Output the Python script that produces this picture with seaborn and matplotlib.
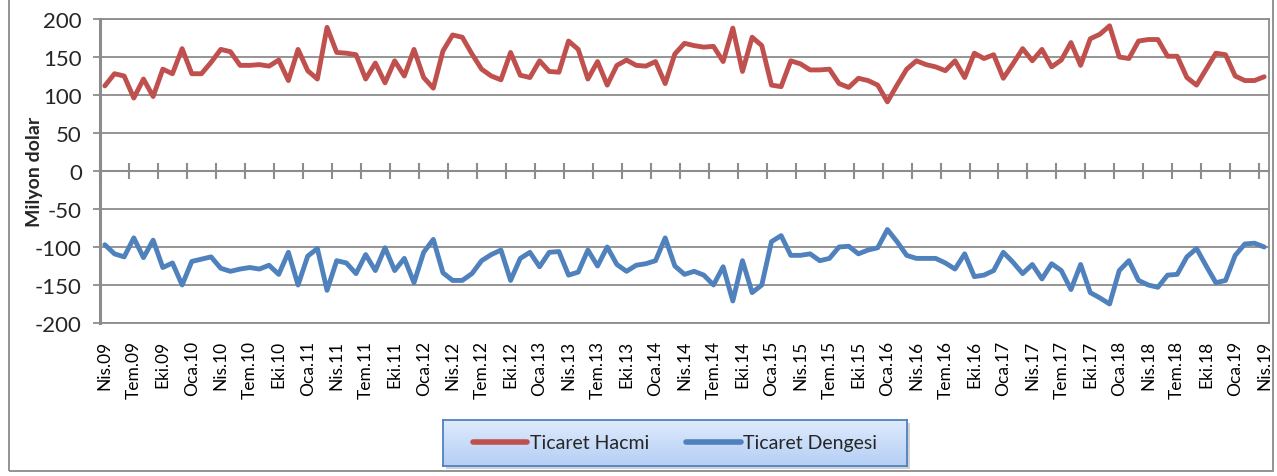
import matplotlib
matplotlib.use("Agg")
import matplotlib.pyplot as plt
from matplotlib.patches import Rectangle
import numpy as np
import pandas as pd
import seaborn as sns

# Aylık veriler: Nis.09 - Nis.19 (121 ay), milyon dolar
ticaret_hacmi = [
    112, 128, 125, 96, 121, 98, 134, 128, 161, 128,
    128, 143, 160, 157, 139, 139, 140, 138, 146, 119,
    160, 132, 121, 189, 156, 155, 153, 121, 142, 116,
    145, 125, 160, 123, 109, 158, 179, 176, 154, 134,
    125, 120, 156, 126, 123, 145, 131, 130, 171, 160,
    121, 144, 113, 139, 146, 139, 138, 144, 115, 154,
    168, 165, 163, 164, 144, 188, 131, 176, 165, 113,
    111, 145, 141, 133, 133, 134, 115, 110, 122, 119,
    113, 91, 113, 134, 145, 140, 137, 132, 145, 123,
    155, 148, 153, 122, 141, 161, 145, 160, 137, 146,
    169, 139, 174, 180, 191, 150, 148, 171, 173, 173,
    151, 151, 123, 113, 134, 155, 153, 125, 119, 119,
    124,
]
ticaret_dengesi = [
    -97, -109, -113, -88, -114, -91, -127, -121, -150, -119,
    -116, -113, -128, -132, -129, -127, -129, -124, -136, -107,
    -150, -112, -102, -157, -118, -121, -135, -110, -131, -101,
    -131, -115, -147, -107, -90, -134, -144, -144, -135, -118,
    -110, -104, -144, -115, -107, -126, -107, -106, -137, -133,
    -104, -125, -100, -123, -132, -124, -122, -118, -88, -125,
    -136, -132, -137, -150, -126, -171, -118, -160, -150, -93,
    -85, -111, -111, -109, -118, -115, -100, -99, -109, -104,
    -101, -77, -93, -111, -115, -115, -115, -121, -129, -109,
    -139, -137, -131, -107, -120, -135, -123, -142, -122, -131,
    -156, -123, -160, -167, -175, -131, -118, -144, -150, -153,
    -137, -136, -113, -102, -125, -147, -144, -111, -96, -95,
    -100,
]
tick_labels = [
    "Nis.09", "Tem.09", "Eki.09", "Oca.10", "Nis.10", "Tem.10", "Eki.10",
    "Oca.11", "Nis.11", "Tem.11", "Eki.11", "Oca.12", "Nis.12", "Tem.12",
    "Eki.12", "Oca.13", "Nis.13", "Tem.13", "Eki.13", "Oca.14", "Nis.14",
    "Tem.14", "Eki.14", "Oca.15", "Nis.15", "Tem.15", "Eki.15", "Oca.16",
    "Nis.16", "Tem.16", "Eki.16", "Oca.17", "Nis.17", "Tem.17", "Eki.17",
    "Oca.18", "Nis.18", "Tem.18", "Eki.18", "Oca.19", "Nis.19",
]
series_names = ["Ticaret Hacmi", "Ticaret Dengesi"]
colors = {"Ticaret Hacmi": "#C0504D", "Ticaret Dengesi": "#4F81BD"}

n = len(ticaret_hacmi)
df = pd.DataFrame({
    "ay": list(range(n)) * 2,
    "deger": ticaret_hacmi + ticaret_dengesi,
    "seri": [series_names[0]] * n + [series_names[1]] * n,
})

sns.set_style("white")
plt.rcParams["font.family"] = ["Lato", "DejaVu Sans"]
plt.rcParams["axes.unicode_minus"] = False

W, H = 1277, 477
fig = plt.figure(figsize=(W / 100, H / 100), dpi=100)
ax = fig.add_axes([100 / W, 1 - 324 / H, 1169 / W, 304 / H])

grid_c = "#8c8c8c"
sns.lineplot(data=df, x="ay", y="deger", hue="seri", palette=colors,
             linewidth=3.5, legend=False, ax=ax, zorder=3)

ax.set_xlim(-0.5, n - 0.5)
ax.set_ylim(-200, 200)
ax.set_yticks(np.arange(-200, 201, 50))
ax.yaxis.grid(True, color=grid_c, linewidth=1.3)
ax.set_axisbelow(True)
for s in ["top", "right", "bottom"]:
    ax.spines[s].set_color(grid_c)
    ax.spines[s].set_linewidth(1.3)
ax.spines["left"].set_color(grid_c)
ax.spines["left"].set_linewidth(2.2)

ax.set_xticks(np.arange(0, n, 3))
ax.set_xticklabels(tick_labels, rotation=90, fontsize=12.5, color="black")
ax.tick_params(axis="x", length=0, pad=12)
ax.tick_params(axis="y", direction="out", length=5, width=1.3, color=grid_c,
               labelsize=16, pad=8, left=True)
ax.set_xlabel("")
ax.set_ylabel("Milyon dolar", fontsize=14, fontweight="bold")
ax.yaxis.set_label_coords(-0.049, 0.5)

# sıfır ekseni ve çapraz tik işaretleri
sec = ax.secondary_xaxis(0.5)
sec.set_xticks(np.arange(-0.5, n, 3))
sec.tick_params(axis="x", direction="inout", length=12, width=1.5, color=grid_c,
                labeltop=False, labelbottom=False)
for sp in sec.spines.values():
    sp.set_color(grid_c)
    sp.set_linewidth(1.5)

# dış çerçeve
fig.add_artist(Rectangle((9 / W, 5 / H), (1273 - 9) / W, 1.2, transform=fig.transFigure,
                         fill=False, edgecolor="#8a8a8a", linewidth=1.3))

# lejant (gradyan dolgulu kutu)
lx, ly, lw, lh = 443 / W, (H - 467) / H, 464 / W, 46 / H
shadow = Rectangle((lx + 3 / W, ly - 3 / H), lw, lh, transform=fig.transFigure,
                   facecolor="#b5b5b5", edgecolor="none", alpha=0.6, zorder=-5)
fig.add_artist(shadow)
lax = fig.add_axes([lx, ly, lw, lh])
lax.set_zorder(5)
grad = np.linspace(0, 1, 64).reshape(-1, 1, 1)
top_c = np.array([0.87, 0.92, 0.99]).reshape(1, 1, 3)
bot_c = np.array([0.71, 0.81, 0.96]).reshape(1, 1, 3)
img = top_c * (1 - grad) + bot_c * grad
lax.imshow(img, aspect="auto", extent=[0, 1, 0, 1], origin="upper")
lax.set_xticks([]); lax.set_yticks([])
for sp in lax.spines.values():
    sp.set_color("#4F81BD")
    sp.set_linewidth(1.3)
handles = [plt.Line2D([], [], color=colors[s], linewidth=4, solid_capstyle="round")
           for s in series_names]
lax.legend(handles, series_names, loc="center", ncol=2, frameon=False, fontsize=14,
           handlelength=2.8, handletextpad=0.15, columnspacing=1.9)

plt.savefig("out.png", dpi=100)
